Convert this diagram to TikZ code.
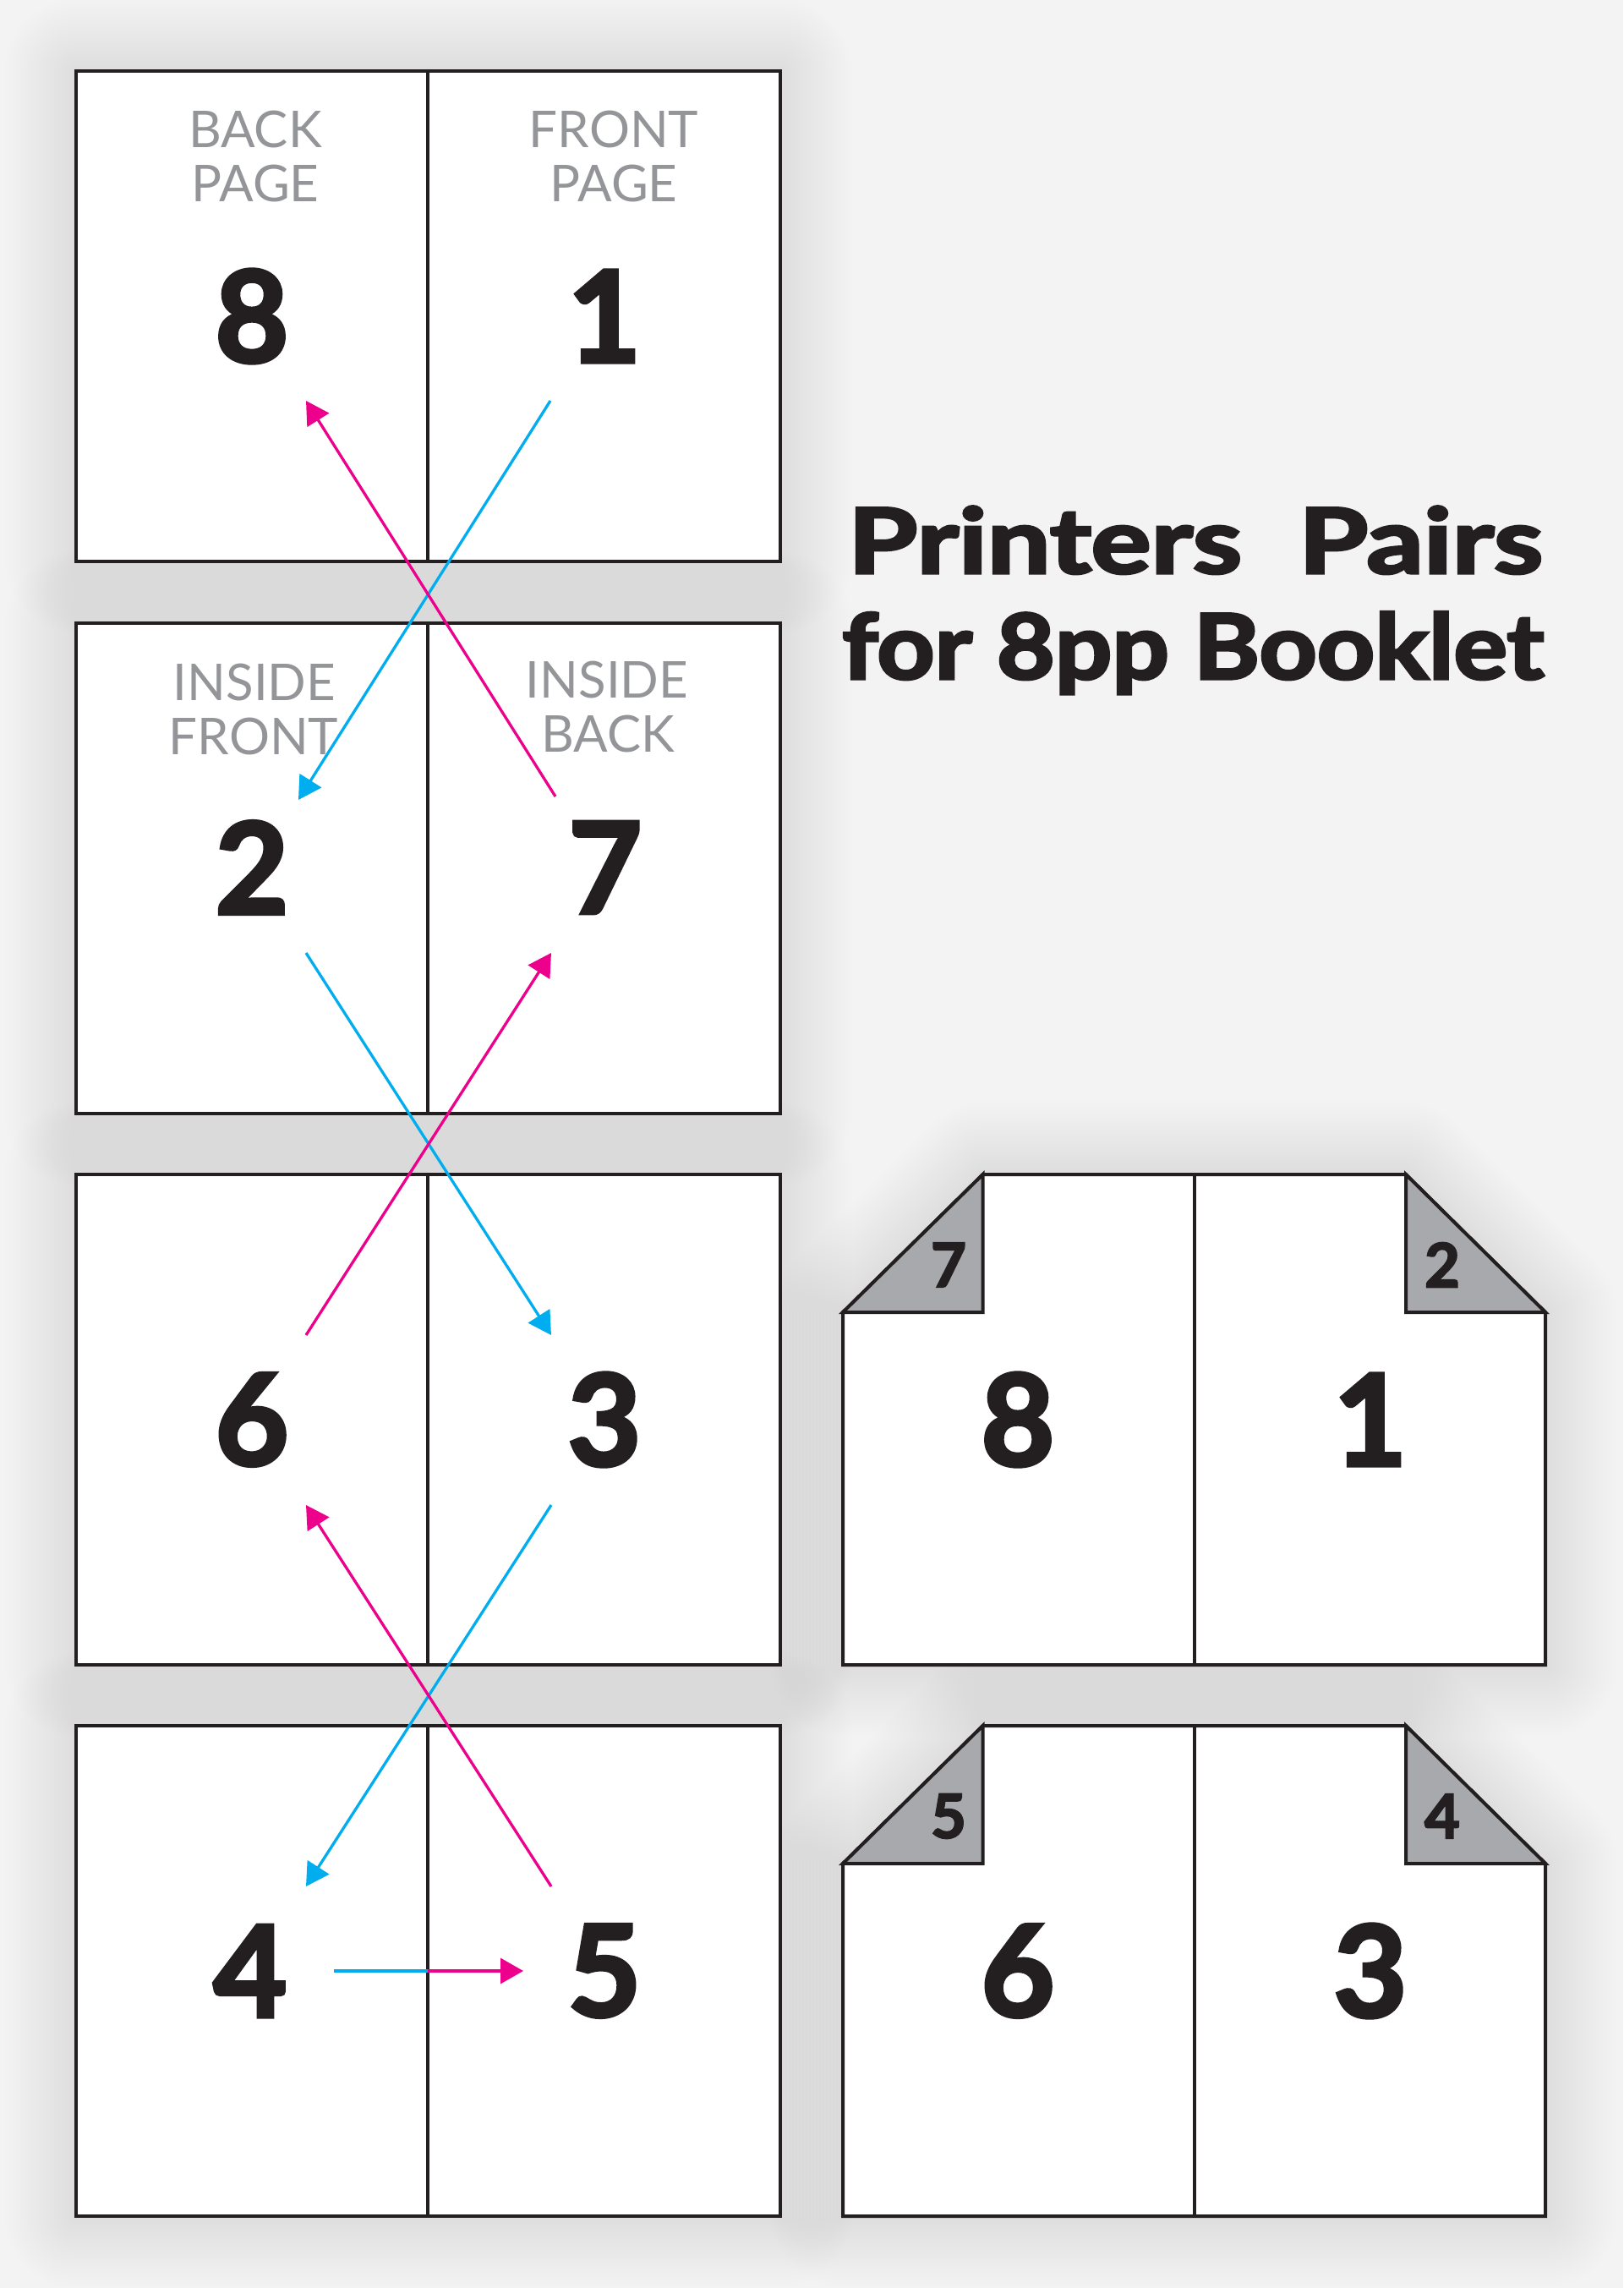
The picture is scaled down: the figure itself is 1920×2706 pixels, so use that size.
\documentclass[tikz,border=0pt]{standalone}
\usepackage{fontspec}
\setmainfont{Lato}
\newfontfamily\heavyfont{Lato}[BoldFeatures={FakeBold=3}]
\usetikzlibrary{arrows.meta}
\definecolor{bg}{HTML}{F3F3F3}
\definecolor{ink}{HTML}{231F20}
\definecolor{lbl}{HTML}{939598}
\definecolor{foldgray}{HTML}{A7A9AC}
\definecolor{cy}{HTML}{00AEEF}
\definecolor{mg}{HTML}{EC008C}
\newcommand\softshadow[1]{%
  \foreach \sm in {4,8,...,84}{\draw[black, draw opacity=0.0042, line width=2*\sm pt, line join=round] #1;}}
\begin{document}
\begin{tikzpicture}[x=1pt,y=-1pt,
  frame/.style={draw=ink, line width=4pt, fill=white, line join=miter},
  divline/.style={draw=ink, line width=4pt},
  foldtri/.style={draw=ink, line width=4pt, fill=foldgray, line join=miter},
  lbltext/.style={text=lbl, font=\fontsize{60}{64}\selectfont, inner sep=0pt, anchor=base},
  bignum/.style={text=ink, font=\heavyfont\bfseries\fontsize{150}{150}\selectfont, inner sep=0pt},
  smallnum/.style={text=ink, font=\heavyfont\bfseries\fontsize{72}{72}\selectfont, inner sep=0pt},
  titletext/.style={text=ink, font=\heavyfont\bfseries\fontsize{107}{125}\selectfont, inner sep=0pt, anchor=base west},
  cyline/.style={draw=cy, line width=3.3pt},
  mgline/.style={draw=mg, line width=3.3pt},
  tip/.style={-{Triangle[length=27pt,width=30pt]}}
]
\fill[bg] (0,0) rectangle (1920,2706);
\useasboundingbox (0,0) rectangle (1920,2706);

% shadows
\foreach \t in {84,737,1389,2041}{\softshadow{(90,\t) rectangle (923,{\t+580})}}
\foreach \t in {1389,2041}{\softshadow{(997,{\t+163}) -- (1162.5,\t) -- (1663,\t) -- (1828,{\t+163}) -- (1828,{\t+580}) -- (997,{\t+580}) -- cycle}}

% left spreads
\foreach \t in {84,737,1389,2041}{
  \draw[frame] (90,\t) rectangle (923,{\t+580});
  \draw[divline] (506,\t) -- (506,{\t+580});
}
% right spreads with folded corners
\foreach \t in {1389,2041}{
  \draw[frame] (997,{\t+163}) -- (1162.5,\t) -- (1663,\t) -- (1828,{\t+163}) -- (1828,{\t+580}) -- (997,{\t+580}) -- cycle;
  \draw[foldtri] (997,{\t+163}) -- (1162.5,\t) -- (1162.5,{\t+163}) -- cycle;
  \draw[foldtri] (1663,\t) -- (1828,{\t+163}) -- (1663,{\t+163}) -- cycle;
  \draw[divline] (1413,\t) -- (1413,{\t+580});
}

% labels
\node[lbltext] (lbBack) at (302,174) {BACK};
\node[lbltext] (lbPage1) at (302,238) {PAGE};
\node[lbltext] (lbFront) at (726,174) {FRONT};
\node[lbltext] (lbPage2) at (726,238) {PAGE};
\node[lbltext] (lbInside1) at (301,828) {INSIDE};
\node[lbltext] (lbFront2) at (300,892) {FRONT};
\node[lbltext] (lbInside2) at (718,825) {INSIDE};
\node[lbltext] (lbBack2) at (719,889) {BACK};

% page numbers
\node[bignum] (n8) at (298,374) {8};
\node[bignum] (n1) at (715,374) {1};
\node[bignum] (n2) at (298,1026) {2};
\node[bignum] (n7) at (716,1026) {7};
\node[bignum] (n6) at (298,1679) {6};
\node[bignum] (n3) at (715,1679) {3};
\node[bignum] (n4) at (296,2331) {4};
\node[bignum] (n5) at (715,2331) {5};
\node[bignum] (r8) at (1204,1679) {8};
\node[bignum] (r1) at (1621,1679) {1};
\node[bignum] (r6) at (1204,2331) {6};
\node[bignum] (r3) at (1621,2331) {3};
\node[smallnum] (c7) at (1122,1496) {7};
\node[smallnum] (c2) at (1706,1496) {2};
\node[smallnum] (c5) at (1122,2148) {5};
\node[smallnum] (c4) at (1706,2148) {4};

% title
\node[titletext] (title1) at (1003,678) {\resizebox{822pt}{\height}{Printers\hspace{54pt}Pairs}};
\node[titletext] (title2) at (996,803) {\resizebox{830pt}{\height}{for 8pp Booklet}};

% arrow end points
\coordinate (c1s) at (651,474);  \coordinate (c1e) at (353,946);
\coordinate (m1s) at (657,942);  \coordinate (m1e) at (362,474);
\coordinate (c2s) at (362,1127); \coordinate (c2e) at (652,1579);
\coordinate (m2s) at (362,1579); \coordinate (m2e) at (652,1127);
\coordinate (c3s) at (652,1780); \coordinate (c3e) at (362,2231);
\coordinate (m3s) at (652,2231); \coordinate (m3e) at (362,1780);
\coordinate (hs) at (395,2331); \coordinate (hm) at (506,2331); \coordinate (he) at (619,2331);

\draw[cyline, tip] (c1s) -- (c1e);
\draw[mgline, tip] (m1s) -- (m1e);
\draw[cyline, tip] (c2s) -- (c2e);
\draw[mgline, tip] (m2s) -- (m2e);
\draw[cyline, tip] (c3s) -- (c3e);
\draw[mgline, tip] (m3s) -- (m3e);
\draw[cyline] (hs) -- (hm);
\draw[mgline, tip] (hm) -- (he);
\end{tikzpicture}
\end{document}
